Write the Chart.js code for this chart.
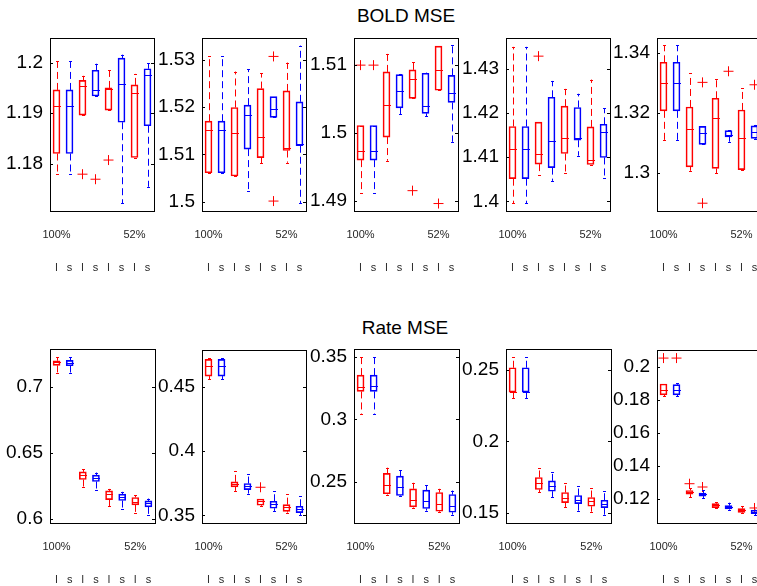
<!DOCTYPE html>
<html lang="en">
<head>
<meta charset="utf-8"/>
<title>BOLD MSE / Rate MSE</title>
<script src="https://cdn.jsdelivr.net/npm/chart.js"></script>
<style>
body {
  margin: 0;
  width: 757px;
  height: 586px;
  overflow: hidden;
  position: relative;
  background: #fff;
  font-family: "Liberation Sans", Arial, sans-serif;
}
canvas {
  position: absolute;
}
.title {
  position: absolute;
  width: 200px;
  text-align: center;
  font-size: 19px;
  line-height: 19px;
  color: #000;
}
</style>
</head>
<body>
<div class="title" style="left:306px; top:6px;">BOLD MSE</div>
<div class="title" style="left:305px; top:318px;">Rate MSE</div>
<canvas id="c1" width="160" height="249"></canvas>
<canvas id="c2" width="160" height="249"></canvas>
<canvas id="c3" width="160" height="249"></canvas>
<canvas id="c4" width="160" height="249"></canvas>
<canvas id="c5" width="160" height="249"></canvas>
<canvas id="c6" width="160" height="249"></canvas>
<canvas id="c7" width="160" height="249"></canvas>
<canvas id="c8" width="160" height="249"></canvas>
<canvas id="c9" width="160" height="249"></canvas>
<canvas id="c10" width="160" height="249"></canvas>
<script>
"use strict";
// box stats: [lower whisker, q1, median, q3, upper whisker], order l s l s l s l s
const groupLabels = ["100%", "", "", "52%"];
const typeLabels = ["l", "s"];

const bold1 = [
  [1.1779, 1.1820, 1.1914, 1.1946, 1.2003],
  [1.1779, 1.1820, 1.1914, 1.1946, 1.2003],
  [1.1896, 1.1896, 1.1954, 1.1965, 1.1974],
  [1.1934, 1.1934, 1.1946, 1.1985, 1.1998],
  [1.1906, 1.1906, 1.1948, 1.1950, 1.1985],
  [1.1721, 1.1882, 1.1958, 1.2009, 1.2016],
  [1.1812, 1.1812, 1.1940, 1.1956, 1.1978],
  [1.1754, 1.1875, 1.1976, 1.1988, 1.1999]
];
const bold1Out = [[2, 1.1779], [3, 1.1769], [4, 1.1807]];
const bold1Ticks = [1.18, 1.19, 1.2];
const bold1Range = [1.1706, 1.2049];

const bold2 = [
  [1.5061, 1.5061, 1.5151, 1.5170, 1.5308],
  [1.5061, 1.5061, 1.5151, 1.5170, 1.5308],
  [1.5054, 1.5054, 1.5144, 1.5199, 1.5275],
  [1.5023, 1.5111, 1.5184, 1.5204, 1.5280],
  [1.5081, 1.5093, 1.5137, 1.5239, 1.5271],
  [1.5178, 1.5178, 1.5196, 1.5222, 1.5222],
  [1.5082, 1.5108, 1.5113, 1.5234, 1.5294],
  [1.4997, 1.5118, 1.5122, 1.5211, 1.5330]
];
const bold2Out = [[5, 1.5307], [5, 1.5001]];
const bold2Ticks = [1.5, 1.51, 1.52, 1.53];
const bold2Range = [1.4980, 1.5346];

const bold3 = [
  [1.4912, 1.4960, 1.4974, 1.5011, 1.5011],
  [1.4912, 1.4960, 1.4974, 1.5011, 1.5011],
  [1.4959, 1.4994, 1.5041, 1.5090, 1.5117],
  [1.5028, 1.5037, 1.5062, 1.5086, 1.5087],
  [1.5051, 1.5051, 1.5080, 1.5093, 1.5104],
  [1.5025, 1.5029, 1.5040, 1.5088, 1.5089],
  [1.5063, 1.5063, 1.5093, 1.5128, 1.5128],
  [1.4987, 1.5045, 1.5059, 1.5085, 1.5130]
];
const bold3Out = [[0, 1.51], [1, 1.51], [4, 1.4915], [6, 1.4896]];
const bold3Ticks = [1.49, 1.5, 1.51];
const bold3Range = [1.4885, 1.5140];

const bold4 = [
  [1.3995, 1.4051, 1.4119, 1.4169, 1.4349],
  [1.3995, 1.4051, 1.4119, 1.4169, 1.4349],
  [1.4059, 1.4084, 1.4106, 1.4179, 1.4179],
  [1.4046, 1.4076, 1.4136, 1.4235, 1.4272],
  [1.4064, 1.4108, 1.4144, 1.4215, 1.4254],
  [1.4103, 1.4138, 1.4143, 1.4212, 1.4243],
  [1.4083, 1.4083, 1.4094, 1.4168, 1.4275],
  [1.4053, 1.4099, 1.4156, 1.4174, 1.4210]
];
const bold4Out = [[2, 1.4328]];
const bold4Ticks = [1.4, 1.41, 1.42, 1.43];
const bold4Range = [1.3978, 1.4369];

const bold5 = [
  [1.3110, 1.3207, 1.3299, 1.3369, 1.3426],
  [1.3110, 1.3207, 1.3299, 1.3369, 1.3426],
  [1.3007, 1.3020, 1.3145, 1.3220, 1.3332],
  [1.3095, 1.3095, 1.3133, 1.3155, 1.3155],
  [1.2999, 1.3015, 1.3183, 1.3249, 1.3313],
  [1.3104, 1.3120, 1.3126, 1.3141, 1.3143],
  [1.3011, 1.3011, 1.3115, 1.3210, 1.3283],
  [1.3113, 1.3115, 1.3135, 1.3157, 1.3160]
];
const bold5Out = [[3, 1.3302], [3, 1.2899], [5, 1.3339], [7, 1.3294]];
const bold5Ticks = [1.3, 1.32, 1.34];
const bold5Range = [1.2873, 1.3450];

const rate1 = [
  [0.7106, 0.7160, 0.7182, 0.7195, 0.7223],
  [0.7106, 0.7157, 0.7180, 0.7198, 0.7223],
  [0.6238, 0.6296, 0.6329, 0.6354, 0.6375],
  [0.6215, 0.6281, 0.6311, 0.6329, 0.6349],
  [0.6096, 0.6144, 0.6185, 0.6210, 0.6225],
  [0.6071, 0.6137, 0.6167, 0.6185, 0.6203],
  [0.6046, 0.6104, 0.6127, 0.6160, 0.6177],
  [0.6025, 0.6089, 0.6117, 0.6134, 0.6152]
];
const rate1Out = [];
const rate1Ticks = [0.6, 0.65, 0.7];
const rate1Range = [0.5967, 0.7284];

const rate2 = [
  [0.4557, 0.4583, 0.4661, 0.4713, 0.4721],
  [0.4557, 0.4583, 0.4661, 0.4713, 0.4721],
  [0.3690, 0.3721, 0.3747, 0.3760, 0.3846],
  [0.3669, 0.3700, 0.3726, 0.3747, 0.3825],
  [0.3570, 0.3578, 0.3609, 0.3627, 0.3627],
  [0.3534, 0.3555, 0.3591, 0.3609, 0.3690],
  [0.3521, 0.3531, 0.3565, 0.3583, 0.3666],
  [0.3500, 0.3521, 0.3552, 0.3570, 0.3648]
];
const rate2Out = [[4, 0.3718]];
const rate2Ticks = [0.35, 0.4, 0.45];
const rate2Range = [0.3440, 0.4786];

const rate3 = [
  [0.3044, 0.3224, 0.3256, 0.3355, 0.3500],
  [0.3044, 0.3224, 0.3264, 0.3355, 0.3500],
  [0.2398, 0.2404, 0.2473, 0.2567, 0.2613],
  [0.2385, 0.2390, 0.2460, 0.2546, 0.2594],
  [0.2294, 0.2299, 0.2358, 0.2444, 0.2492],
  [0.2269, 0.2286, 0.2345, 0.2433, 0.2471],
  [0.2259, 0.2264, 0.2326, 0.2414, 0.2444],
  [0.2237, 0.2256, 0.2307, 0.2398, 0.2430]
];
const rate3Out = [];
const rate3Ticks = [0.25, 0.3, 0.35];
const rate3Range = [0.2170, 0.3564];

const rate4 = [
  [0.2301, 0.2344, 0.2348, 0.2514, 0.2589],
  [0.2301, 0.2344, 0.2348, 0.2514, 0.2589],
  [0.1643, 0.1664, 0.1706, 0.1748, 0.1813],
  [0.1612, 0.1652, 0.1689, 0.1724, 0.1787],
  [0.1542, 0.1572, 0.1605, 0.1643, 0.1706],
  [0.1514, 0.1565, 0.1591, 0.1622, 0.1687],
  [0.1509, 0.1547, 0.1584, 0.1608, 0.1671],
  [0.1484, 0.1537, 0.1565, 0.1589, 0.1652]
];
const rate4Out = [];
const rate4Ticks = [0.15, 0.2, 0.25];
const rate4Range = [0.1430, 0.2645];

const rate5 = [
  [0.1821, 0.1829, 0.1859, 0.1895, 0.1895],
  [0.1821, 0.1829, 0.1859, 0.1891, 0.1899],
  [0.1210, 0.1228, 0.1240, 0.1250, 0.1265],
  [0.1202, 0.1216, 0.1228, 0.1234, 0.1250],
  [0.1142, 0.1146, 0.1162, 0.1170, 0.1180],
  [0.1134, 0.1138, 0.1150, 0.1158, 0.1176],
  [0.1113, 0.1117, 0.1132, 0.1140, 0.1156],
  [0.1101, 0.1109, 0.1117, 0.1130, 0.1134]
];
const rate5Out = [[0, 0.2052], [1, 0.2052], [2, 0.1291], [3, 0.1271], [7, 0.1144]];
const rate5Ticks = [0.12, 0.14, 0.16, 0.18, 0.2];
const rate5Range = [0.1053, 0.2101];

const RED = "#ff0000";
const BLUE = "#0000ff";

const panels = [
  {id: "c1", left: 0, top: 32, boxes: bold1, out: bold1Out, ticks: bold1Ticks, range: bold1Range},
  {id: "c2", left: 152, top: 32, boxes: bold2, out: bold2Out, ticks: bold2Ticks, range: bold2Range},
  {id: "c3", left: 304, top: 32, boxes: bold3, out: bold3Out, ticks: bold3Ticks, range: bold3Range},
  {id: "c4", left: 456, top: 32, boxes: bold4, out: bold4Out, ticks: bold4Ticks, range: bold4Range},
  {id: "c5", left: 607, top: 32, boxes: bold5, out: bold5Out, ticks: bold5Ticks, range: bold5Range},
  {id: "c6", left: 0, top: 344, boxes: rate1, out: rate1Out, ticks: rate1Ticks, range: rate1Range},
  {id: "c7", left: 152, top: 344, boxes: rate2, out: rate2Out, ticks: rate2Ticks, range: rate2Range},
  {id: "c8", left: 304, top: 344, boxes: rate3, out: rate3Out, ticks: rate3Ticks, range: rate3Range},
  {id: "c9", left: 456, top: 344, boxes: rate4, out: rate4Out, ticks: rate4Ticks, range: rate4Range},
  {id: "c10", left: 607, top: 344, boxes: rate5, out: rate5Out, ticks: rate5Ticks, range: rate5Range}
];

// x labels: two lines, group label on top and l/s below
const xLabels = [];
for(let g = 0; g < groupLabels.length; g++){
  for(let t = 0; t < typeLabels.length; t++){
    xLabels.push([t === 0 ? groupLabels[g] : "", typeLabels[t]]);
  }
}

// whiskers, caps, medians, frame and inward ticks
const boxParts = {
  id: "boxParts",
  afterDatasetsDraw(chart, args, opts){
    const ctx = chart.ctx;
    const xs = chart.scales.x;
    const ys = chart.scales.y;
    const area = chart.chartArea;
    const stats = opts.boxes;
    ctx.save();
    ctx.lineWidth = 1;
    for(let i = 0; i < stats.length; i++){
      const b = stats[i];
      const x = Math.round(xs.getPixelForValue(i)) + 0.5;
      ctx.strokeStyle = i % 2 === 0 ? RED : BLUE;
      // whiskers
      ctx.setLineDash([7, 4]);
      ctx.beginPath();
      ctx.moveTo(x, ys.getPixelForValue(b[3]));
      ctx.lineTo(x, ys.getPixelForValue(b[4]));
      ctx.moveTo(x, ys.getPixelForValue(b[1]));
      ctx.lineTo(x, ys.getPixelForValue(b[0]));
      ctx.stroke();
      ctx.setLineDash([]);
      // caps
      ctx.beginPath();
      for(const v of [b[0], b[4]]){
        const y = Math.round(ys.getPixelForValue(v)) + 0.5;
        ctx.moveTo(x - 1.5, y);
        ctx.lineTo(x + 1.5, y);
      }
      ctx.stroke();
      // median
      const ym = Math.round(ys.getPixelForValue(b[2])) + 0.5;
      ctx.beginPath();
      ctx.moveTo(x - 3.5, ym);
      ctx.lineTo(x + 3.5, ym);
      ctx.stroke();
    }
    // frame
    ctx.strokeStyle = "#000";
    ctx.strokeRect(Math.round(area.left) + 0.5, Math.round(area.top) + 0.5,
      Math.round(area.right - area.left), Math.round(area.bottom - area.top));
    ctx.beginPath();
    for(const t of opts.ticks){
      const y = Math.round(ys.getPixelForValue(t)) + 0.5;
      ctx.moveTo(area.left, y);
      ctx.lineTo(area.left + 3, y);
      ctx.moveTo(area.right, y);
      ctx.lineTo(area.right - 3, y);
    }
    ctx.stroke();
    ctx.restore();
  }
};

function makeChart(p){
  const canvas = document.getElementById(p.id);
  canvas.style.left = p.left + "px";
  canvas.style.top = p.top + "px";
  new Chart(canvas, {
    type: "bar",
    data: {
      datasets: [
        {
          type: "bar",
          data: p.boxes.map((b, i) => ({x: i, y: [b[1], b[3]]})),
          backgroundColor: "rgba(0,0,0,0)",
          borderColor: p.boxes.map((b, i) => i % 2 === 0 ? RED : BLUE),
          borderWidth: 1,
          borderSkipped: false,
          barThickness: 7,
          grouped: false
        },
        {
          type: "scatter",
          data: p.out.map(o => ({x: o[0], y: o[1]})),
          pointStyle: "cross",
          pointRadius: 5,
          borderColor: RED,
          backgroundColor: RED,
          borderWidth: 1,
          showLine: false
        }
      ]
    },
    options: {
      responsive: false,
      animation: false,
      layout: {padding: {top: 5, right: 5, left: 0, bottom: 0}},
      plugins: {
        legend: {display: false},
        tooltip: {enabled: false},
        boxParts: {boxes: p.boxes, ticks: p.ticks}
      },
      scales: {
        x: {
          type: "linear",
          min: -0.5,
          max: 7.5,
          offset: false,
          grid: {display: false, drawTicks: false, offset: false},
          border: {display: false},
          afterBuildTicks: s => { s.ticks = xLabels.map((l, i) => ({value: i})); },
          ticks: {
            autoSkip: false,
            maxRotation: 0,
            padding: 7.5,
            color: "#262626",
            font: {family: "Liberation Sans", size: 11, lineHeight: 3},
            callback: v => xLabels[v]
          },
          afterFit: s => {
            s.height = 70;
            s.paddingLeft = 0;
            s.paddingRight = 0;
          }
        },
        y: {
          min: p.range[0],
          max: p.range[1],
          grid: {display: false, drawTicks: false},
          border: {display: false},
          afterBuildTicks: s => { s.ticks = p.ticks.map(v => ({value: v})); },
          ticks: {
            padding: 7,
            color: "#000",
            font: {family: "Liberation Sans", size: 19},
            callback: v => String(parseFloat(Number(v).toFixed(4)))
          },
          afterFit: s => {
            s.width = 50;
            s.paddingTop = 0;
            s.paddingBottom = 0;
          }
        }
      }
    },
    plugins: [boxParts]
  });
}

for(const p of panels){
  makeChart(p);
}
</script>
</body>
</html>
